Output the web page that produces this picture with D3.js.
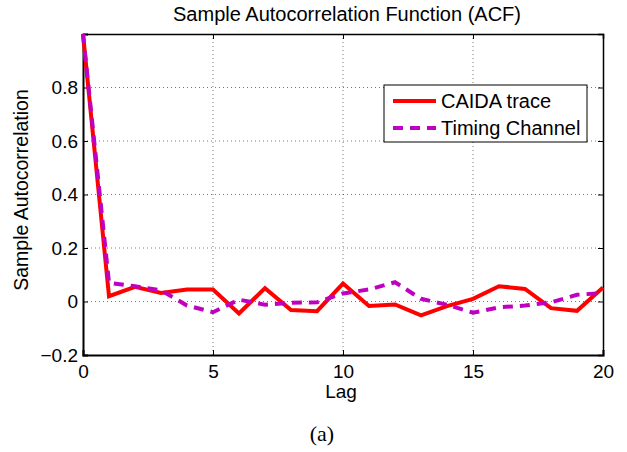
<!DOCTYPE html>
<html><head><meta charset="utf-8">
<script src="https://cdn.jsdelivr.net/npm/d3@7"></script>
<style>body{margin:0;background:#fff}svg{display:block}</style>
</head><body>
<svg id="c" width="627" height="452"></svg>
<script>
const lags = d3.range(0, 21);
const caida = [1.0, 0.02, 0.055, 0.032, 0.045, 0.045, -0.045, 0.05, -0.032, -0.036, 0.067, -0.017, -0.011, -0.052, -0.017, 0.01, 0.057, 0.047, -0.025, -0.035, 0.052];
const timing = [1.0, 0.07, 0.057, 0.042, -0.015, -0.04, 0.007, -0.012, -0.005, -0.003, 0.03, 0.045, 0.072, 0.01, -0.012, -0.042, -0.022, -0.015, -0.003, 0.025, 0.032];
const xTicks = [0, 5, 10, 15, 20];
const yTicks = [-0.2, 0, 0.2, 0.4, 0.6, 0.8];
const seriesNames = ["CAIDA trace", "Timing Channel"];

const svg = d3.select("#c");
const L = 83, R = 603, T = 34, B = 355;
const x = d3.scaleLinear().domain([0, 20]).range([L, R]);
const y = d3.scaleLinear().domain([-0.2, 1]).range([B, T]);
const font = "Liberation Sans, Arial, sans-serif";

// grid
const g = svg.append("g");
g.selectAll(".gx").data(xTicks.filter(d => d > 0 && d < 20)).enter().append("line")
  .attr("x1", d => x(d)).attr("x2", d => x(d)).attr("y1", T).attr("y2", B)
  .attr("stroke", "#555").attr("stroke-width", 0.8).attr("stroke-dasharray", "1,3");
g.selectAll(".gy").data(yTicks.filter(d => d > -0.2)).enter().append("line")
  .attr("y1", d => y(d)).attr("y2", d => y(d)).attr("x1", L).attr("x2", R)
  .attr("stroke", "#555").attr("stroke-width", 0.8).attr("stroke-dasharray", "1,3");

// axes with inward ticks
const axB = svg.append("g").attr("transform", `translate(0,${B})`)
  .call(d3.axisBottom(x).tickValues(xTicks).tickSize(-5).tickPadding(10).tickFormat(d3.format("d")));
const axT = svg.append("g").attr("transform", `translate(0,${T})`)
  .call(d3.axisTop(x).tickValues(xTicks).tickSize(-5).tickFormat(""));
const axL = svg.append("g").attr("transform", `translate(${L},0)`)
  .call(d3.axisLeft(y).tickValues(yTicks).tickSize(-5).tickPadding(5).tickFormat(d => d === 0 ? "0" : d3.format(".1f")(d).replace("-", "\u2212")));
const axR = svg.append("g").attr("transform", `translate(${R},0)`)
  .call(d3.axisRight(y).tickValues(yTicks).tickSize(-5).tickFormat(""));
[axB, axT, axL, axR].forEach(a => {
  a.select(".domain").attr("stroke", "#000").attr("stroke-width", 1.5);
  a.selectAll(".tick line").attr("stroke", "#000").attr("stroke-width", 1);
  a.selectAll("text").attr("font-family", font).attr("font-size", 19).attr("fill", "#000");
});
axL.select(".domain").attr("stroke-width", 2);
axB.select(".domain").attr("stroke-width", 2);

// lines
const line = d3.line().x((d, i) => x(lags[i])).y(d => y(d));
svg.append("path").datum(caida).attr("d", line).attr("fill", "none")
  .attr("stroke", "#ff0000").attr("stroke-width", 4).attr("stroke-linejoin", "miter");
svg.append("path").datum(timing).attr("d", line).attr("fill", "none")
  .attr("stroke", "#c000c0").attr("stroke-width", 4).attr("stroke-dasharray", "10,7");

// legend
const lg = svg.append("g");
lg.append("rect").attr("x", 384).attr("y", 85).attr("width", 203).attr("height", 57)
  .attr("fill", "#fff").attr("stroke", "#000").attr("stroke-width", 1);
const ly = [101, 128];
const styles = [{c: "#ff0000", d: null}, {c: "#c000c0", d: "10,7"}];
seriesNames.forEach((n, i) => {
  lg.append("line").attr("x1", 393).attr("x2", 436).attr("y1", ly[i]).attr("y2", ly[i])
    .attr("stroke", styles[i].c).attr("stroke-width", 4).attr("stroke-dasharray", styles[i].d);
  lg.append("text").attr("x", 441).attr("y", ly[i] + 6.5)
    .attr("font-family", font).attr("font-size", 20).text(n);
});

// titles
svg.append("text").attr("x", 347).attr("y", 21).attr("text-anchor", "middle")
  .attr("font-family", font).attr("font-size", 20).text("Sample Autocorrelation Function (ACF)");
svg.append("text").attr("x", 341).attr("y", 398).attr("text-anchor", "middle")
  .attr("font-family", font).attr("font-size", 19).text("Lag");
svg.append("text").attr("transform", `translate(28,190) rotate(-90)`).attr("text-anchor", "middle")
  .attr("font-family", font).attr("font-size", 19.5).text("Sample Autocorrelation");
svg.append("text").attr("x", 322).attr("y", 441).attr("text-anchor", "middle")
  .attr("font-family", "Liberation Serif, Times New Roman, serif").attr("font-size", 22).text("(a)");
</script>
</body></html>
